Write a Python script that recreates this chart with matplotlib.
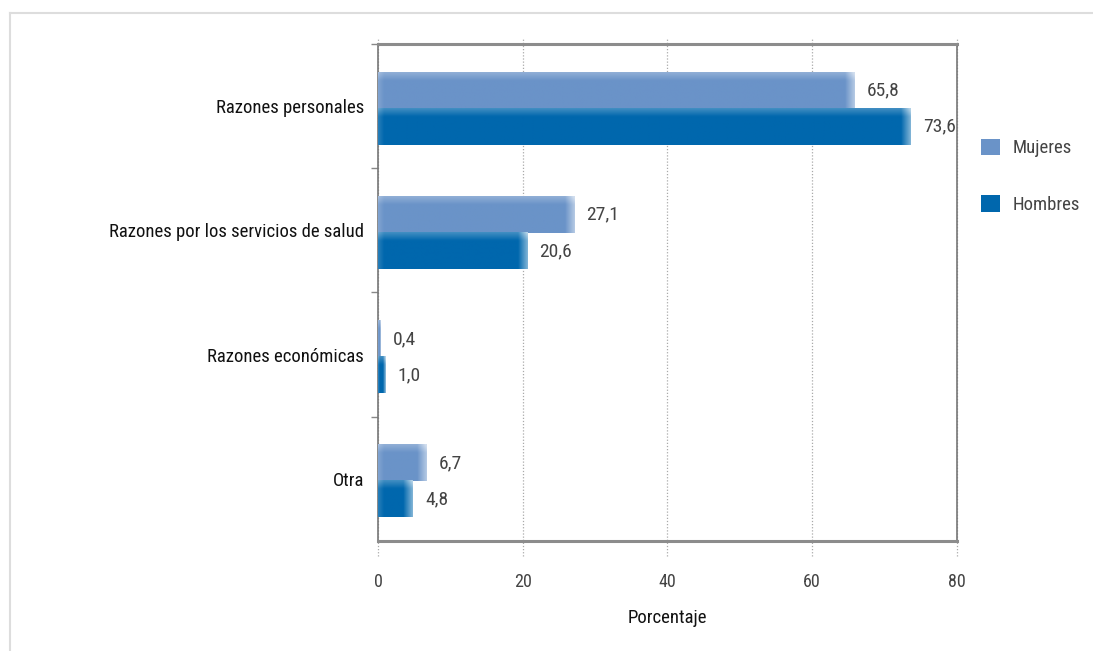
import matplotlib
matplotlib.use("Agg")
import matplotlib.pyplot as plt
from matplotlib.lines import Line2D
from matplotlib.patches import Patch
from matplotlib import font_manager
import matplotlib.colors as mcolors
import numpy as np

# fuente estrecha si existe
nombres = {f.name for f in font_manager.fontManager.ttflist}
estrechas = [n for n in ['Liberation Sans Narrow', 'DejaVu Sans Condensed',
                         'Roboto Condensed', 'Open Sans Condensed'] if n in nombres]
plt.rcParams['font.family'] = estrechas + ['Roboto', 'DejaVu Sans']
if not estrechas:
    plt.rcParams['font.stretch'] = 'condensed'

# datos
categorias = ["Razones personales", "Razones por los servicios de salud",
              "Razones económicas", "Otra"]
mujeres = [65.8, 27.1, 0.4, 6.7]
hombres = [73.6, 20.6, 1.0, 4.8]
etiquetas_serie = ["Mujeres", "Hombres"]
colores = ["#6a93c8", "#0067ad"]
xticks = [0, 20, 40, 60, 80]

fs = 13 if estrechas else 12

fig = plt.figure(figsize=(10.93, 6.51), dpi=100)
ax = fig.add_axes([0.3458, 0.169, 0.5297, 0.7634])

y = np.arange(len(categorias))
alto = 0.29
b1 = ax.barh(y - 0.125, mujeres, height=alto, color=colores[0], zorder=3)
b2 = ax.barh(y + 0.165, hombres, height=alto, color=colores[1], zorder=3)


def degradado(barra, color):
    # brillo en el borde derecho y en la parte de arriba de cada barra
    x0, y0 = barra.get_x(), barra.get_y()
    w, h = barra.get_width(), barra.get_height()
    if w <= 0:
        return
    nx, ny = max(int(w * 8), 8), 30
    xs = np.linspace(x0, x0 + w, nx)
    ts = np.linspace(0, 1, ny)
    ancho = min(1.3, 0.35 * w)
    fade_r = np.clip((xs - (x0 + w - ancho)) / ancho, 0, 1) * 0.5
    fade_l = np.clip(1 - (xs - x0) / min(0.8, 0.2 * w), 0, 1) * 0.15
    fade_t = np.clip(1 - ts / 0.22, 0, 1) * 0.25
    luz = np.clip(fade_r[None, :] + fade_l[None, :] + fade_t[:, None], 0, 0.7)
    base = np.array(mcolors.to_rgb(color))
    img = base[None, None, :] * (1 - luz[..., None]) + luz[..., None]
    ax.imshow(img, extent=(x0, x0 + w, y0 + h, y0), origin='upper',
              aspect='auto', zorder=4, interpolation='bilinear')


for barras, c in zip([b1, b2], colores):
    for barra in barras:
        degradado(barra, c)

# etiquetas de valores
for barras, valores in zip([b1, b2], [mujeres, hombres]):
    for barra, v in zip(barras, valores):
        ax.annotate(f"{v:.1f}".replace(".", ","),
                    (barra.get_width(), barra.get_y() + barra.get_height() / 2),
                    xytext=(9, 0), textcoords="offset points",
                    ha="left", va="center", fontsize=fs + 1, color="#444444")

ax.set_xlim(0, 80)
ax.set_ylim(len(categorias) - 0.5, -0.5)
ax.set_yticks(y)
ax.set_yticklabels(categorias, fontsize=fs + 0.5, color="#111111")
ax.set_yticks(np.arange(len(categorias)) - 0.5, minor=True)
ax.tick_params(axis="y", which="major", length=0, pad=10)
ax.tick_params(axis="y", which="minor", length=5, color="#888888", width=1)
ax.set_xticks(xticks)
ax.set_xticklabels([str(t) for t in xticks], fontsize=fs, color="#444444")
ax.tick_params(axis="x", length=0, pad=23)
ax.set_xlabel("Porcentaje", fontsize=fs + 0.5, color="#111111", labelpad=13)

# rejilla punteada que sobresale del marco
ax.vlines(xticks, -0.03, 1.012, transform=ax.get_xaxis_transform(),
          colors="#aaaaaa", linestyles=(0, (1, 1.5)), linewidth=0.9,
          clip_on=False, zorder=1)

for lado in ["top", "bottom"]:
    ax.spines[lado].set_color("#8c8c8c")
    ax.spines[lado].set_linewidth(2.2)
for lado in ["left", "right"]:
    ax.spines[lado].set_color("#777777")
    ax.spines[lado].set_linewidth(1.2)

# leyenda
manejadores = [Patch(facecolor=c, edgecolor="none") for c in colores]
fig.legend(manejadores, etiquetas_serie, loc="upper left",
           bbox_to_anchor=(0.882, 0.813), frameon=False, fontsize=fs + 0.5,
           handlelength=1.0, handleheight=1.0, labelspacing=2.0,
           handletextpad=0.7, labelcolor="#444444")

# marco exterior
fig.add_artist(Line2D([0.0092, 1.0], [0.98, 0.98], color="#dddddd", lw=1.5))
fig.add_artist(Line2D([0.0092, 0.0092], [0.0, 0.98], color="#dddddd", lw=1.5))

fig.savefig("out.png", dpi=100)
